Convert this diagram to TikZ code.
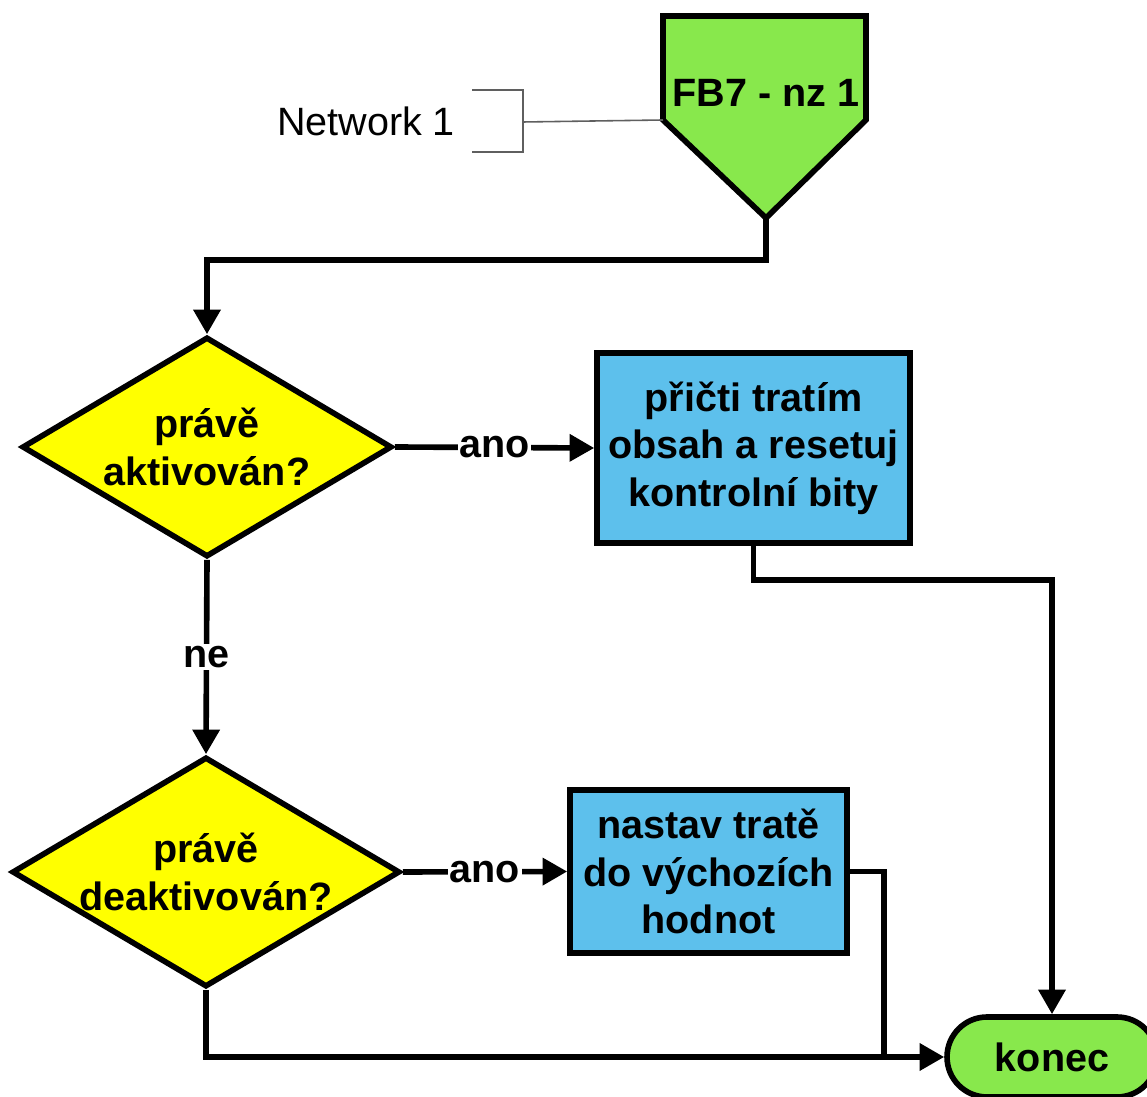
\documentclass[tikz,border=0pt]{standalone}
\usepackage{fontspec}
\setmainfont{Liberation Sans}
\usetikzlibrary{arrows.meta,shapes.geometric}
\definecolor{fbgreen}{RGB}{136,232,76}
\definecolor{boxblue}{RGB}{93,192,236}
\definecolor{diayellow}{RGB}{255,255,0}
\definecolor{brgray}{RGB}{95,95,95}
\tikzset{
  every node/.style={font=\fontsize{22.5}{27}\selectfont\bfseries},
  bord/.style={draw=black, line width=3.2pt},
  dia/.style={bord, diamond, fill=diayellow, inner sep=0pt},
  procbox/.style={bord, rectangle, fill=boxblue, inner sep=0pt, align=center},
  endbox/.style={bord, rectangle, rounded corners=0.8cm, fill=fbgreen, inner sep=0pt},
  txt/.style={align=center, inner sep=0pt},
  conn/.style={line width=3.2pt, -{Triangle[length=14pt,width=15pt]}},
  plain/.style={line width=3.2pt},
  lbl/.style={fill=white, inner sep=1pt},
  thinline/.style={draw=brgray, line width=0.9pt}
}
\begin{document}
\begin{tikzpicture}[x=0.02cm, y=-0.02cm]
\useasboundingbox (0,0) rectangle (1147,1097);
\clip (0,0) rectangle (1147,1097);
\fill[white] (0,0) rectangle (1147,1097);

% off-page connector
\coordinate (fbtopl) at (663,16);
\coordinate (fbtopr) at (866,16);
\coordinate (fbright) at (866,120);
\coordinate (fbtip) at (766,218);
\coordinate (fbleft) at (663,120);
\filldraw[bord, fill=fbgreen] (fbtopl) -- (fbtopr) -- (fbright) -- (fbtip) -- (fbleft) -- cycle;
\node[txt] (fb) at (766,93) {FB7 - nz 1};

% annotation
\node[font=\fontsize{22.5}{27}\selectfont, inner sep=0pt] (net) at (366,121) {Network 1};
\coordinate (brtop) at (472,90);
\coordinate (brbot) at (472,152);
\coordinate (brmid) at (523,122);
\draw[thinline] (brtop) -| (523,152) -- (brbot);
\draw[thinline] (brmid) -- (fbleft);

% decisions
\node[dia, minimum width=7.4cm, minimum height=4.4cm] (d1) at (207,447) {};
\node[txt] (d1t) at (d1.center) {právě\\aktivován?};
\node[dia, minimum width=7.76cm, minimum height=4.6cm] (d2) at (206,872) {};
\node[txt] (d2t) at (d2.center) {právě\\deaktivován?};

% processes
\node[procbox, minimum width=6.26cm, minimum height=3.8cm] (b1) at (753.5,448) {přičti tratím\\obsah a resetuj\\kontrolní bity};
\node[procbox, minimum width=5.54cm, minimum height=3.26cm] (b2) at (708.5,871.5) {nastav tratě\\do výchozích\\hodnot};

% end
\node[endbox, minimum width=4.2cm, minimum height=1.6cm] (konec) at (1052,1057) {konec};

% connectors
\draw[conn] (fbtip) -- ++(0,42) -| (d1.north);
\draw[conn] (d1.east) -- node[lbl] {ano} (b1.west);
\draw[conn] (b1.south) -- ++(0,34) -| (konec.north);
\draw[conn] (d1.south) -- node[lbl] {ne} (d2.north);
\draw[conn] (d2.east) -- node[lbl] {ano} (b2.west);
\coordinate (join) at (884,1057);
\draw[plain] (b2.east) -| (join);
\draw[conn] (d2.south) |- (konec.west);
\end{tikzpicture}
\end{document}
